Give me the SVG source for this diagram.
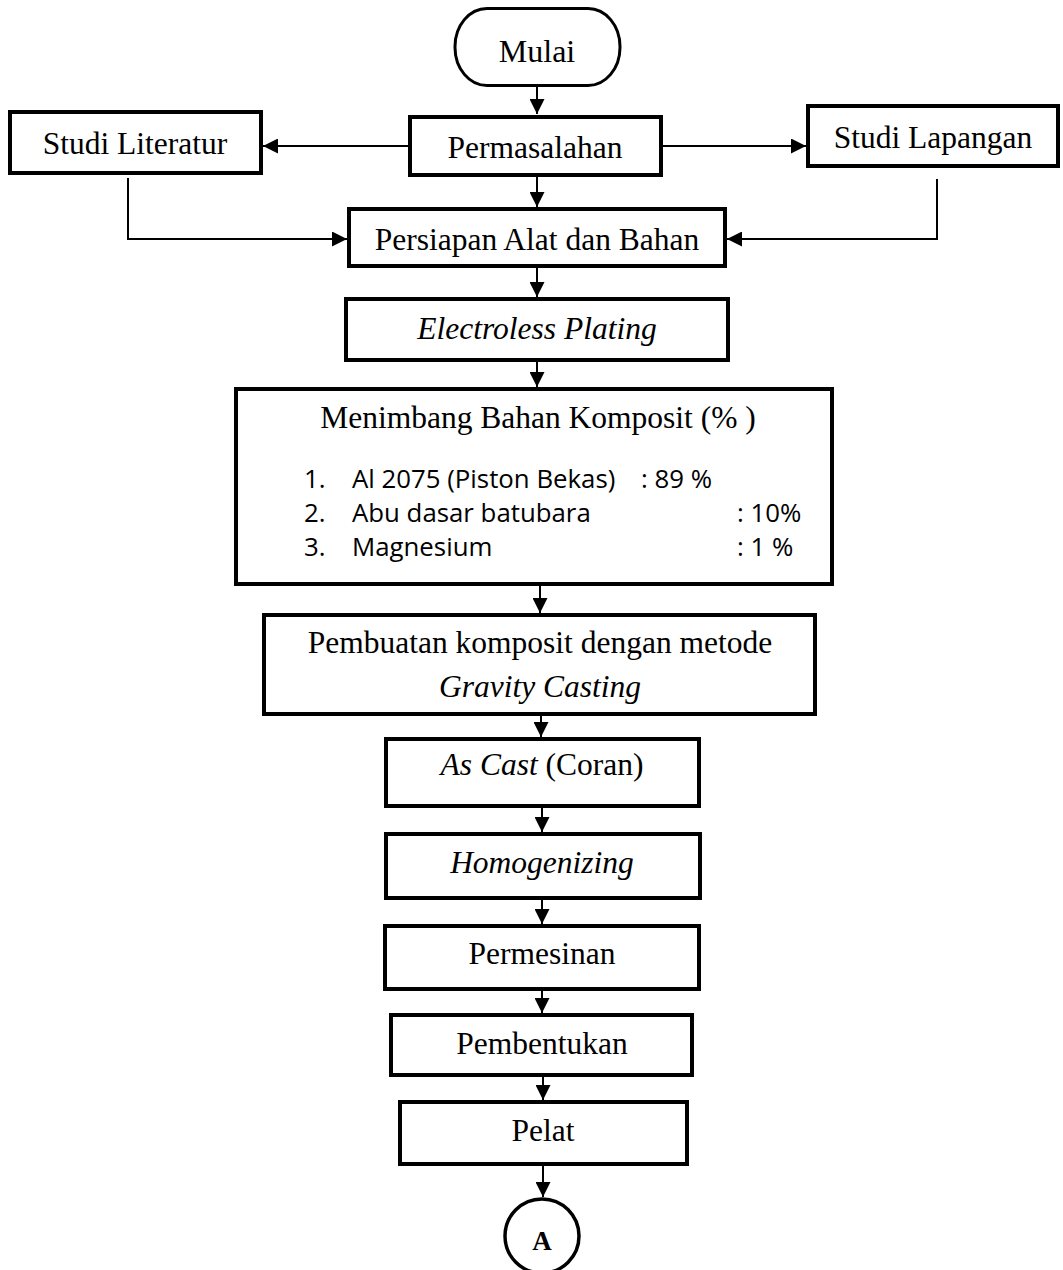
<svg xmlns="http://www.w3.org/2000/svg" width="1063" height="1270" viewBox="0 0 1063 1270">
<style>
.box{fill:#fff;stroke:#000;stroke-width:4}
.t{font-family:"Liberation Serif","Times New Roman",serif;font-size:31.5px;fill:#000;text-anchor:middle}
.i{font-style:italic}
.s{font-family:"Open Sans","Liberation Sans",sans-serif;font-size:25.8px;fill:#000}
.c{fill:none;stroke:#000;stroke-width:2}
</style>
<defs>
<marker id="ah" markerUnits="userSpaceOnUse" markerWidth="15" markerHeight="15" refX="15" refY="7.5" orient="auto">
<path d="M0,0 L15,7.5 L0,15 z" fill="#000"/>
</marker>
</defs>
<rect width="1063" height="1270" fill="#fff"/>
<g id="connectors">
<path class="c" d="M537,86 V114" marker-end="url(#ah)"/>
<path class="c" d="M408,146 H263" marker-end="url(#ah)"/>
<path class="c" d="M663,146 H806" marker-end="url(#ah)"/>
<path class="c" d="M537,177 V207" marker-end="url(#ah)"/>
<path class="c" d="M128,178 V239 H347" marker-end="url(#ah)"/>
<path class="c" d="M937,179 V239 H727" marker-end="url(#ah)"/>
<path class="c" d="M537,268 V297" marker-end="url(#ah)"/>
<path class="c" d="M537,362 V387" marker-end="url(#ah)"/>
<path class="c" d="M540,586 V613" marker-end="url(#ah)"/>
<path class="c" d="M541,716 V737" marker-end="url(#ah)"/>
<path class="c" d="M542,808 V832" marker-end="url(#ah)"/>
<path class="c" d="M542,900 V924" marker-end="url(#ah)"/>
<path class="c" d="M542,991 V1013" marker-end="url(#ah)"/>
<path class="c" d="M543,1077 V1100" marker-end="url(#ah)"/>
<path class="c" d="M543,1166 V1197" marker-end="url(#ah)"/>
</g>
<g id="mulai">
<rect x="455" y="8.5" width="165" height="77" rx="32" ry="38" fill="#fff" stroke="#000" stroke-width="3"/>
<text class="t" x="537" y="62" style="font-size:32px">Mulai</text>
</g>
<g id="studi-literatur">
<rect class="box" x="10" y="112" width="251" height="61"/>
<text class="t" x="135" y="154">Studi Literatur</text>
</g>
<g id="permasalahan">
<rect class="box" x="410" y="117" width="251" height="58"/>
<text class="t" x="535" y="158">Permasalahan</text>
</g>
<g id="studi-lapangan">
<rect class="box" x="808" y="106" width="250" height="60"/>
<text class="t" x="933" y="148">Studi Lapangan</text>
</g>
<g id="persiapan">
<rect class="box" x="349" y="209" width="376" height="57"/>
<text class="t" x="537" y="250">Persiapan Alat dan Bahan</text>
</g>
<g id="electroless">
<rect class="box" x="346" y="299" width="382" height="61"/>
<text class="t i" x="537" y="339">Electroless Plating</text>
</g>
<g id="menimbang">
<rect class="box" x="236" y="389" width="596" height="195"/>
<text class="t" x="538" y="428">Menimbang Bahan Komposit (% )</text>
<text class="s" x="304" y="488">1.</text>
<text class="s" x="352" y="488">Al 2075 (Piston Bekas)</text>
<text class="s" x="641" y="488">: 89 %</text>
<text class="s" x="304" y="522">2.</text>
<text class="s" x="352" y="522">Abu dasar batubara</text>
<text class="s" x="737" y="522">: 10%</text>
<text class="s" x="304" y="556">3.</text>
<text class="s" x="352" y="556">Magnesium</text>
<text class="s" x="737" y="556">: 1 %</text>
</g>
<g id="pembuatan">
<rect class="box" x="264" y="615" width="551" height="99"/>
<text class="t" x="540" y="653">Pembuatan komposit dengan metode</text>
<text class="t i" x="540" y="697">Gravity Casting</text>
</g>
<g id="as-cast">
<rect class="box" x="386" y="739" width="313" height="67"/>
<text class="t" x="542" y="775"><tspan class="i">As Cast</tspan> (Coran)</text>
</g>
<g id="homogenizing">
<rect class="box" x="386" y="834" width="314" height="64"/>
<text class="t i" x="542" y="873">Homogenizing</text>
</g>
<g id="permesinan">
<rect class="box" x="385" y="926" width="314" height="63"/>
<text class="t" x="542" y="964">Permesinan</text>
</g>
<g id="pembentukan">
<rect class="box" x="391" y="1015" width="301" height="60"/>
<text class="t" x="542" y="1054">Pembentukan</text>
</g>
<g id="pelat">
<rect class="box" x="400" y="1102" width="287" height="62"/>
<text class="t" x="543" y="1141">Pelat</text>
</g>
<g id="connector-a">
<circle cx="542" cy="1236" r="37" fill="#fff" stroke="#000" stroke-width="3.5"/>
<text class="t" x="542" y="1250" style="font-size:27px;font-weight:bold">A</text>
</g>
</svg>
